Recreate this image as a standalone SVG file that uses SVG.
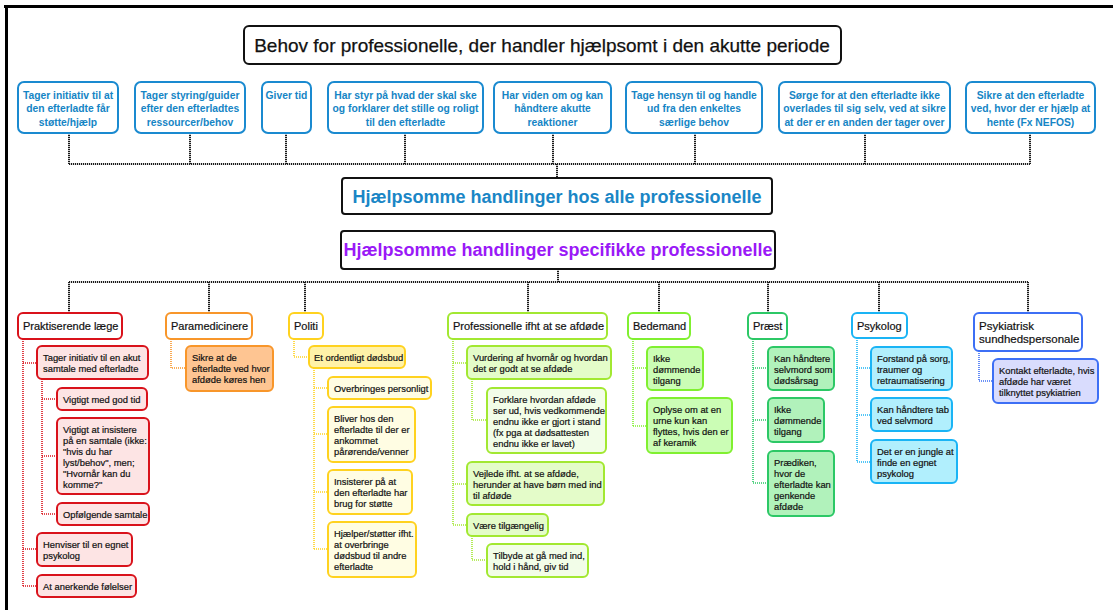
<svg xmlns="http://www.w3.org/2000/svg" width="1113" height="610" viewBox="0 0 1113 610">
<style>
text{font-family:"Liberation Sans",Arial,Helvetica,sans-serif}
.title{font-size:19px;fill:#111;text-anchor:middle;stroke:#111;stroke-width:0.25}
.tb{fill:#fff;stroke:#111;stroke-width:2}
.bl{fill:#fff;stroke:#1a8ad0;stroke-width:2}
.blt{font-size:10.3px;font-weight:bold;fill:#1585c5;text-anchor:middle}
.h1{font-size:18px;font-weight:bold;fill:#1a86c6;text-anchor:middle}
.h2{font-size:18px;font-weight:bold;fill:#9a19f7;text-anchor:middle}
.hd{font-size:11px;fill:#111;stroke:#111;stroke-width:0.2}
.c{font-size:9.4px;fill:#111;stroke:#111;stroke-width:0.2}
.bc{fill:none;stroke:#1a1a1a;stroke-width:2;stroke-dasharray:1.2 0.8}
.cc{fill:none;stroke-width:1.6;stroke-dasharray:1 1}
rect{stroke-width:2}
.red{stroke:#d9121b}.redf{fill:#fde4e4}
.org{stroke:#f8962a}.orgf{fill:#fec592}
.yel{stroke:#ffd21f}.yelf1{fill:#fff2a8}.yelf2{fill:#fffde3}
.yg{stroke:#a2e831}.ygf1{fill:#e4fcc9}.ygf2{fill:#f2fde8}
.bd{stroke:#80f030}.bdf{fill:#cbfdb5}
.pr{stroke:#2cc866}.prf{fill:#b1f2bb}
.ps{stroke:#1ab4f5}.psf{fill:#b1effd}
.pk{stroke:#3d6ff5}.pkf{fill:#d9dcfd}
.wf{fill:#fff}
</style>

<g id="frame">
<line x1="4" y1="6.5" x2="1113" y2="6.5" stroke="#000" stroke-width="3"/>
<line x1="6.5" y1="5" x2="6.5" y2="610" stroke="#000" stroke-width="3"/>
</g>

<g id="connectors">
<path class="bc" d="M69 133V164M190 133V164M286 133V164M405 133V164M553 133V164M695 133V164M865 133V164M1030 133V164M69 164H1030M557 164V178"/>
<path class="bc" d="M558 269V282M69 282H1028M69 282V313M209 282V313M305 282V313M528 282V313M659 282V313M768 282V313M879 282V313M1028 282V313"/>
<path class="cc" stroke="#d9121b" d="M23 339V586M23 363H37M23 549H37M23 586H37M42 379V514M42 399H57M42 456H57M42 514H57"/>
<path class="cc" stroke="#f8962a" d="M171 339V368H186"/>
<path class="cc" stroke="#ffd21f" d="M294 339V357H309M314 368V549M314 388H328M314 434H328M314 492H328M314 549H328"/>
<path class="cc" stroke="#a2e831" d="M453 339V525M453 363H467M453 484H467M453 525H467M472 379V420H487M472 536V560H487"/>
<path class="cc" stroke="#80f030" d="M633 339V426M633 368H647M633 426H647"/>
<path class="cc" stroke="#2cc866" d="M753 339V483M753 368H768M753 420H768M753 483H768"/>
<path class="cc" stroke="#1ab4f5" d="M857 338V462M857 368H871M857 415H871M857 462H871"/>
<path class="cc" stroke="#3d6ff5" d="M979 351V381H993"/>
</g>

<g id="title">
<rect class="tb" x="244" y="26" width="597" height="38" rx="5"/>
<text class="title" x="542" y="52">Behov for professionelle, der handler hjælpsomt i den akutte periode</text>
</g>

<g id="need1"><rect class="bl" x="18" y="82" width="100" height="51" rx="6"/>
<text class="blt" x="68" y="98.5"><tspan x="68">Tager initiativ til at</tspan><tspan x="68" dy="13.5">den efterladte får</tspan><tspan x="68" dy="13.5">støtte/hjælp</tspan></text></g>
<g id="need2"><rect class="bl" x="135" y="82" width="110" height="51" rx="6"/>
<text class="blt" x="190" y="98.5"><tspan x="190">Tager styring/guider</tspan><tspan x="190" dy="13.5">efter den efterladtes</tspan><tspan x="190" dy="13.5">ressourcer/behov</tspan></text></g>
<g id="need3"><rect class="bl" x="262" y="82" width="49" height="51" rx="6"/>
<text class="blt" x="286.5" y="98.5">Giver tid</text></g>
<g id="need4"><rect class="bl" x="328" y="82" width="155" height="51" rx="6"/>
<text class="blt" x="405.5" y="98.5"><tspan x="405.5">Har styr på hvad der skal ske</tspan><tspan x="405.5" dy="13.5">og forklarer det stille og roligt</tspan><tspan x="405.5" dy="13.5">til den efterladte</tspan></text></g>
<g id="need5"><rect class="bl" x="494" y="82" width="117" height="51" rx="6"/>
<text class="blt" x="552.5" y="98.5"><tspan x="552.5">Har viden om og kan</tspan><tspan x="552.5" dy="13.5">håndtere akutte</tspan><tspan x="552.5" dy="13.5">reaktioner</tspan></text></g>
<g id="need6"><rect class="bl" x="626" y="82" width="136" height="51" rx="6"/>
<text class="blt" x="694" y="98.5"><tspan x="694">Tage hensyn til og handle</tspan><tspan x="694" dy="13.5">ud fra den enkeltes</tspan><tspan x="694" dy="13.5">særlige behov</tspan></text></g>
<g id="need7"><rect class="bl" x="779" y="82" width="171" height="51" rx="6"/>
<text class="blt" x="864.5" y="98.5"><tspan x="864.5">Sørge for at den efterladte ikke</tspan><tspan x="864.5" dy="13.5">overlades til sig selv, ved at sikre</tspan><tspan x="864.5" dy="13.5">at der er en anden der tager over</tspan></text></g>
<g id="need8"><rect class="bl" x="966" y="82" width="129" height="51" rx="6"/>
<text class="blt" x="1030.5" y="98.5"><tspan x="1030.5">Sikre at den efterladte</tspan><tspan x="1030.5" dy="13.5">ved, hvor der er hjælp at</tspan><tspan x="1030.5" dy="13.5">hente (Fx NEFOS)</tspan></text></g>

<g id="all-prof"><rect class="tb" x="342" y="178" width="430" height="36" rx="3"/>
<text class="h1" x="557" y="203">Hjælpsomme handlinger hos alle professionelle</text></g>
<g id="spec-prof"><rect class="tb" x="341" y="231" width="434" height="38" rx="3"/>
<text class="h2" x="558" y="256">Hjælpsomme handlinger specifikke professionelle</text></g>

<!-- Praktiserende læge -->
<g id="laege"><rect class="red wf" x="18" y="313" width="104" height="26" rx="5"/>
<text class="hd" x="23" y="330">Praktiserende læge</text></g>
<g id="laege-1"><rect class="red redf" x="37" y="346" width="111" height="33" rx="5"/>
<text class="c"><tspan x="43" y="361">Tager initiativ til en akut</tspan><tspan x="43" dy="11">samtale med efterladte</tspan></text></g>
<g id="laege-1a"><rect class="red redf" x="57" y="388" width="90" height="22" rx="5"/>
<text class="c" x="63" y="403">Vigtigt med god tid</text></g>
<g id="laege-1b"><rect class="red redf" x="57" y="418" width="92" height="76" rx="5"/>
<text class="c"><tspan x="63" y="433">Vigtigt at insistere</tspan><tspan x="63" dy="11">på en samtale (ikke:</tspan><tspan x="63" dy="11">"hvis du har</tspan><tspan x="63" dy="11">lyst/behov", men;</tspan><tspan x="63" dy="11">"Hvornår kan du</tspan><tspan x="63" dy="11">komme?"</tspan></text></g>
<g id="laege-1c"><rect class="red redf" x="57" y="503" width="92" height="22" rx="5"/>
<text class="c" x="63" y="518">Opfølgende samtale</text></g>
<g id="laege-2"><rect class="red redf" x="37" y="533" width="95" height="33" rx="5"/>
<text class="c"><tspan x="43" y="548">Henviser til en egnet</tspan><tspan x="43" dy="11">psykolog</tspan></text></g>
<g id="laege-3"><rect class="red redf" x="37" y="575" width="99" height="22" rx="5"/>
<text class="c" x="43" y="590">At anerkende følelser</text></g>

<!-- Paramedicinere -->
<g id="para"><rect class="org wf" x="166" y="313" width="86" height="26" rx="5"/>
<text class="hd" x="171" y="330">Paramedicinere</text></g>
<g id="para-1"><rect class="org orgf" x="186" y="346" width="87" height="45" rx="5"/>
<text class="c"><tspan x="192" y="361">Sikre at de</tspan><tspan x="192" dy="11">efterladte ved hvor</tspan><tspan x="192" dy="11">afdøde køres hen</tspan></text></g>

<!-- Politi -->
<g id="politi"><rect class="yel wf" x="289" y="313" width="34" height="26" rx="5"/>
<text class="hd" x="294" y="330">Politi</text></g>
<g id="politi-1"><rect class="yel yelf1" x="309" y="346" width="96" height="22" rx="5"/>
<text class="c" x="314" y="361">Et ordentligt dødsbud</text></g>
<g id="politi-1a"><rect class="yel yelf2" x="328" y="377" width="103" height="22" rx="5"/>
<text class="c" x="334" y="392">Overbringes personligt</text></g>
<g id="politi-1b"><rect class="yel yelf2" x="328" y="407" width="87" height="55" rx="5"/>
<text class="c"><tspan x="334" y="422">Bliver hos den</tspan><tspan x="334" dy="11">efterladte til der er</tspan><tspan x="334" dy="11">ankommet</tspan><tspan x="334" dy="11">pårørende/venner</tspan></text></g>
<g id="politi-1c"><rect class="yel yelf2" x="328" y="470" width="84" height="44" rx="5"/>
<text class="c"><tspan x="334" y="485">Insisterer på at</tspan><tspan x="334" dy="11">den efterladte har</tspan><tspan x="334" dy="11">brug for støtte</tspan></text></g>
<g id="politi-1d"><rect class="yel yelf2" x="328" y="522" width="88" height="55" rx="5"/>
<text class="c"><tspan x="334" y="537">Hjælper/støtter ifht.</tspan><tspan x="334" dy="11">at overbringe</tspan><tspan x="334" dy="11">dødsbud til andre</tspan><tspan x="334" dy="11">efterladte</tspan></text></g>

<!-- Professionelle ifht at se afdøde -->
<g id="se-afdoede"><rect class="yg wf" x="448" y="313" width="159" height="26" rx="5"/>
<text class="hd" x="453" y="330">Professionelle ifht at se afdøde</text></g>
<g id="se-1"><rect class="yg ygf1" x="467" y="346" width="144" height="33" rx="5"/>
<text class="c"><tspan x="473" y="361">Vurdering af hvornår og hvordan</tspan><tspan x="473" dy="11">det er godt at se afdøde</tspan></text></g>
<g id="se-1a"><rect class="yg ygf2" x="487" y="388" width="119" height="65" rx="5"/>
<text class="c"><tspan x="493" y="403">Forklare hvordan afdøde</tspan><tspan x="493" dy="11">ser ud, hvis vedkommende</tspan><tspan x="493" dy="11">endnu ikke er gjort i stand</tspan><tspan x="493" dy="11">(fx pga at dødsattesten</tspan><tspan x="493" dy="11">endnu ikke er lavet)</tspan></text></g>
<g id="se-2"><rect class="yg ygf1" x="467" y="462" width="137" height="43" rx="5"/>
<text class="c"><tspan x="473" y="477">Vejlede ifht. at se afdøde,</tspan><tspan x="473" dy="11">herunder at have børn med ind</tspan><tspan x="473" dy="11">til afdøde</tspan></text></g>
<g id="se-3"><rect class="yg ygf1" x="467" y="514" width="81" height="22" rx="5"/>
<text class="c" x="473" y="529">Være tilgængelig</text></g>
<g id="se-3a"><rect class="yg ygf2" x="487" y="544" width="101" height="33" rx="5"/>
<text class="c"><tspan x="493" y="559">Tilbyde at gå med ind,</tspan><tspan x="493" dy="11">hold i hånd, giv tid</tspan></text></g>

<!-- Bedemand -->
<g id="bedemand"><rect class="bd wf" x="628" y="313" width="62" height="26" rx="5"/>
<text class="hd" x="633" y="330">Bedemand</text></g>
<g id="bedemand-1"><rect class="bd bdf" x="647" y="347" width="56" height="43" rx="5"/>
<text class="c"><tspan x="653" y="362">Ikke</tspan><tspan x="653" dy="11">dømmende</tspan><tspan x="653" dy="11">tilgang</tspan></text></g>
<g id="bedemand-2"><rect class="bd bdf" x="647" y="398" width="85" height="55" rx="5"/>
<text class="c"><tspan x="653" y="413">Oplyse om at en</tspan><tspan x="653" dy="11">urne kun kan</tspan><tspan x="653" dy="11">flyttes, hvis den er</tspan><tspan x="653" dy="11">af keramik</tspan></text></g>

<!-- Præst -->
<g id="praest"><rect class="pr wf" x="748" y="313" width="39" height="26" rx="5"/>
<text class="hd" x="753" y="330">Præst</text></g>
<g id="praest-1"><rect class="pr prf" x="768" y="347" width="66" height="43" rx="5"/>
<text class="c"><tspan x="774" y="362">Kan håndtere</tspan><tspan x="774" dy="11">selvmord som</tspan><tspan x="774" dy="11">dødsårsag</tspan></text></g>
<g id="praest-2"><rect class="pr prf" x="768" y="398" width="56" height="44" rx="5"/>
<text class="c"><tspan x="774" y="413">Ikke</tspan><tspan x="774" dy="11">dømmende</tspan><tspan x="774" dy="11">tilgang</tspan></text></g>
<g id="praest-3"><rect class="pr prf" x="768" y="451" width="66" height="65" rx="5"/>
<text class="c"><tspan x="774" y="466">Prædiken,</tspan><tspan x="774" dy="11">hvor de</tspan><tspan x="774" dy="11">efterladte kan</tspan><tspan x="774" dy="11">genkende</tspan><tspan x="774" dy="11">afdøde</tspan></text></g>

<!-- Psykolog -->
<g id="psykolog"><rect class="ps wf" x="852" y="313" width="55" height="25" rx="5"/>
<text class="hd" x="857" y="330">Psykolog</text></g>
<g id="psykolog-1"><rect class="ps psf" x="871" y="347" width="81" height="43" rx="5"/>
<text class="c"><tspan x="877" y="362">Forstand på sorg,</tspan><tspan x="877" dy="11">traumer og</tspan><tspan x="877" dy="11">retraumatisering</tspan></text></g>
<g id="psykolog-2"><rect class="ps psf" x="871" y="398" width="81" height="33" rx="5"/>
<text class="c"><tspan x="877" y="413">Kan håndtere tab</tspan><tspan x="877" dy="11">ved selvmord</tspan></text></g>
<g id="psykolog-3"><rect class="ps psf" x="871" y="440" width="86" height="43" rx="5"/>
<text class="c"><tspan x="877" y="455">Det er en jungle at</tspan><tspan x="877" dy="11">finde en egnet</tspan><tspan x="877" dy="11">psykolog</tspan></text></g>

<!-- Psykiatrisk sundhedspersonale -->
<g id="psykiatri"><rect class="pk wf" x="974" y="313" width="108" height="38" rx="5"/>
<text class="hd" style="font-size:11.5px"><tspan x="979" y="330">Psykiatrisk</tspan><tspan x="979" dy="12.5">sundhedspersonale</tspan></text></g>
<g id="psykiatri-1"><rect class="pk pkf" x="993" y="359" width="105" height="44" rx="5"/>
<text class="c"><tspan x="999" y="374">Kontakt efterladte, hvis</tspan><tspan x="999" dy="11">afdøde har været</tspan><tspan x="999" dy="11">tilknyttet psykiatrien</tspan></text></g>
</svg>
